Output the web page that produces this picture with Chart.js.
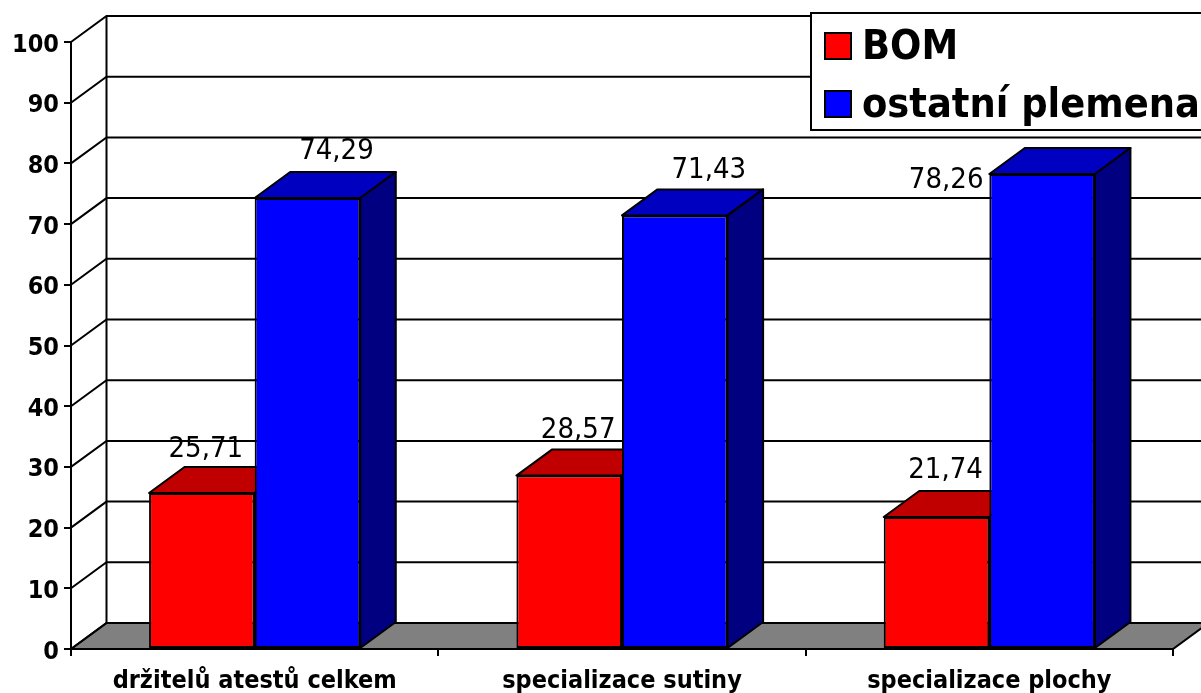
<!DOCTYPE html>
<html><head><meta charset="utf-8">
<style>html,body{margin:0;padding:0;background:#fff;overflow:hidden}canvas{display:block}</style>
<script src="https://cdn.jsdelivr.net/npm/chart.js@4"></script>
</head><body><canvas id="c" width="1201" height="693"></canvas>
<script>
const categories = ["držitelů atestů celkem", "specializace sutiny", "specializace plochy"];
const bomValues = [25.71, 28.57, 21.74];
const otherValues = [74.29, 71.43, 78.26];
const seriesNames = ["BOM", "ostatní plemena"];
const yTicks = [0,10,20,30,40,50,60,70,80,90,100];
const FONT = '"DejaVu Sans Condensed","DejaVu Sans",sans-serif';
const DX = 35.5, DY = 26;
const labelOffsets = [
  [[4,-43],[9,-45],[9,-47]],
  [[29,-47],[34,-45],[-96,7]]
];
const faceColors = [{top:'#c00000',side:'#800000'},{top:'#0000c0',side:'#000080'}];
const fmt = v => v.toFixed(2).replace('.',',');

const walls = {
  id:'walls',
  beforeDatasetsDraw(ch){
    const {ctx,chartArea:a,scales:{y}} = ch;
    ctx.save();
    ctx.strokeStyle='#000';
    ctx.fillStyle='#808080'; ctx.lineWidth=2;
    ctx.beginPath();
    ctx.moveTo(a.left,a.bottom);ctx.lineTo(a.left+DX,a.bottom-DY);
    ctx.lineTo(a.right+DX,a.bottom-DY);ctx.lineTo(a.right,a.bottom);ctx.closePath();
    ctx.fill();ctx.stroke();
    ctx.lineWidth=2;
    yTicks.forEach(v=>{
      const p=y.getPixelForValue(v);
      ctx.beginPath();ctx.moveTo(a.left,p);ctx.lineTo(a.left+DX,p-DY);ctx.lineTo(a.right+DX,p-DY);ctx.stroke();
    });
    ctx.beginPath();ctx.moveTo(a.left+DX,a.top-DY);ctx.lineTo(a.left+DX,a.bottom-DY);ctx.stroke();
    ctx.beginPath();ctx.moveTo(a.left+DX,a.top-DY);ctx.lineTo(a.right+DX,a.top-DY);ctx.stroke();
    // extruded faces: drawn before all front faces so each front face covers its neighbour's side
    ctx.lineJoin='round';
    ch.data.datasets.forEach((ds,i)=>{
      const col=faceColors[i];
      ch.getDatasetMeta(i).data.forEach(el=>{
        const l=el.x-el.width/2,r=el.x+el.width/2,t=el.y,b=el.base;
        ctx.fillStyle=col.top;ctx.beginPath();
        ctx.moveTo(l,t);ctx.lineTo(l+DX,t-DY);ctx.lineTo(r+DX,t-DY);ctx.lineTo(r,t);ctx.closePath();ctx.fill();ctx.stroke();
        ctx.fillStyle=col.side;ctx.beginPath();
        ctx.moveTo(r,t);ctx.lineTo(r+DX,t-DY);ctx.lineTo(r+DX,b-DY);ctx.lineTo(r,b);ctx.closePath();ctx.fill();ctx.stroke();
      });
    });
    ctx.restore();
  },
  afterDatasetsDraw(ch){
    const {ctx}=ch;
    ctx.save();ctx.fillStyle='#000';ctx.font='29px '+FONT;ctx.textAlign='center';ctx.textBaseline='middle';
    ch.data.datasets.forEach((ds,i)=>{
      ch.getDatasetMeta(i).data.forEach((el,j)=>{
        const o=labelOffsets[i][j];
        ctx.fillText(fmt(ds.data[j]),el.x+o[0],el.y+o[1]);
      });
    });
    ctx.restore();
  },
  afterDraw(ch){
    const {ctx}=ch;
    ctx.save();
    ctx.fillStyle='#fff';ctx.strokeStyle='#000';ctx.lineWidth=2;
    ctx.fillRect(811,13,395,117);ctx.strokeRect(811,13,395,117);
    const rows=[46,104];
    ch.data.datasets.forEach((ds,i)=>{
      ctx.fillStyle=ds.backgroundColor;
      ctx.fillRect(825,rows[i]-13,26,26);ctx.strokeRect(825,rows[i]-13,26,26);
      ctx.fillStyle='#000';ctx.font='bold 41px '+FONT;ctx.textAlign='left';ctx.textBaseline='middle';
      ctx.fillText(ds.label,862,rows[i]+2);
    });
    ctx.restore();
  }
};

new Chart(document.getElementById('c'),{
  type:'bar',
  data:{labels:categories,datasets:[
    {label:seriesNames[0],data:bomValues,backgroundColor:'#ff0000',borderColor:'#000',borderWidth:2,borderSkipped:false},
    {label:seriesNames[1],data:otherValues,backgroundColor:'#0000ff',borderColor:'#000',borderWidth:2,borderSkipped:false}
  ]},
  plugins:[walls],
  options:{
    responsive:false,animation:false,
    layout:{padding:{top:42,right:28,left:0,bottom:0}},
    plugins:{legend:{display:false},tooltip:{enabled:false},title:{display:false}},
    datasets:{bar:{categoryPercentage:0.575,barPercentage:1}},
    scales:{
      x:{
        afterFit(s){s.height=44;},
        border:{color:'#000',width:2},
        grid:{drawOnChartArea:false,drawTicks:true,tickLength:7,color:'#000',lineWidth:2},
        ticks:{color:'#000',font:{family:FONT,size:25,weight:'bold'},padding:10,maxRotation:0}
      },
      y:{
        min:0,max:100,
        afterFit(s){s.width=71;},
        afterBuildTicks(s){s.ticks=yTicks.map(v=>({value:v}));},
        border:{color:'#000',width:2},
        grid:{drawOnChartArea:false,drawTicks:true,tickLength:7,color:'#000',lineWidth:2},
        ticks:{color:'#000',font:{family:FONT,size:25,weight:'bold'},padding:5,labelOffset:3}
      }
    }
  }
});
</script></body></html>
